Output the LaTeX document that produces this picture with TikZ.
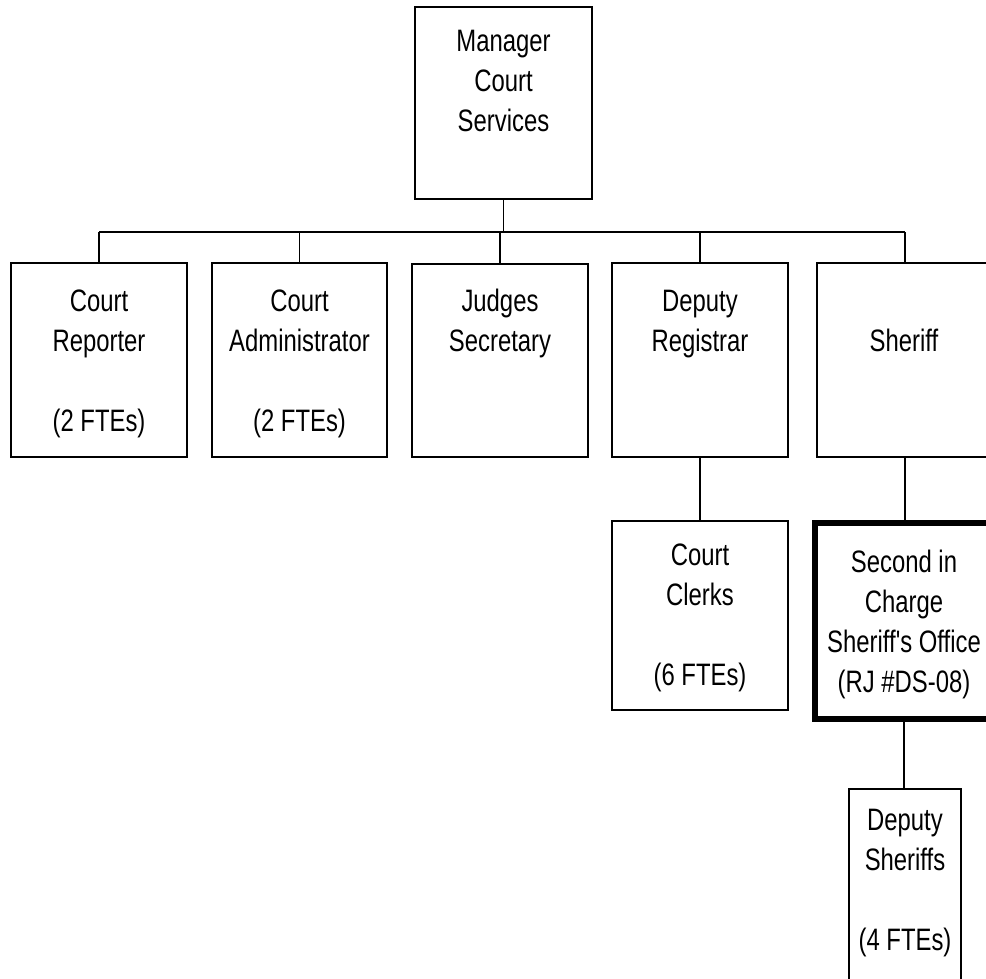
\documentclass[tikz,border=0pt]{standalone}
\usepackage{fontspec}
\setmainfont[FakeStretch=0.77, Ligatures=TeXOff]{Liberation Sans}
\tikzset{
  boxst/.style={draw=black, line width=2pt, inner sep=0pt, fill=white},
  bossbox/.style={draw=black, line width=6pt, inner sep=0pt, fill=white},
  txt/.style={inner sep=0pt, anchor=base, font=\fontsize{31}{40}\selectfont},
  conn/.style={draw=black, line width=1.8pt},
}
\newcommand{\lines}[1]{\parbox[t]{220pt}{\centering #1}}
\begin{document}
\begin{tikzpicture}[x=1pt,y=-1pt]
\useasboundingbox (0,0) rectangle (986,979);
\clip (0,0) rectangle (986,979);
% boxes
\node[boxst, minimum width=177pt, minimum height=192pt] (mgr) at (503.5,103) {};
\node[boxst, minimum width=176pt, minimum height=194pt] (cr) at (99,360) {};
\node[boxst, minimum width=175pt, minimum height=194pt] (ca) at (299.5,360) {};
\node[boxst, minimum width=176pt, minimum height=193pt] (js) at (500,360) {};
\node[boxst, minimum width=176pt, minimum height=194pt] (dr) at (700,360) {};
\node[boxst, minimum width=176pt, minimum height=194pt] (sh) at (905,360) {};
\node[boxst, minimum width=176pt, minimum height=189pt] (cc) at (700,615.5) {};
\node[bossbox, minimum width=178pt, minimum height=195.5pt] (sic) at (904,620.75) {};
\node[boxst, minimum width=112pt, minimum height=220pt] (ds) at (905,899) {};
% connectors
\coordinate (bus) at (0,232);
\draw[conn] (mgr.south) -- (mgr.south |- bus);
\draw[conn] (cr.north |- bus) -- (sh.north |- bus);
\draw[conn] (cr.north) -- (cr.north |- bus);
\draw[conn] (ca.north) -- (ca.north |- bus);
\draw[conn] (js.north) -- (js.north |- bus);
\draw[conn] (dr.north) -- (dr.north |- bus);
\draw[conn] (sh.north) -- (sh.north |- bus);
\draw[conn] (dr.south) -- (cc.north);
\draw[conn] (sh.south) -- (sic.north -| sh.south);
\draw[conn] (sic.south) -- (ds.north -| sic.south);
% texts
\node[txt] (mgr-t) at (503.5,52) {\lines{Manager\\Court\\Services}};
\node[txt] (cr-t) at (99,311) {\lines{Court\\Reporter\\[40pt](2 FTEs)}};
\node[txt] (ca-t) at (299.5,311) {\lines{Court\\Administrator\\[40pt](2 FTEs)}};
\node[txt] (js-t) at (500,311) {\lines{Judges\\Secretary}};
\node[txt] (dr-t) at (700,311) {\lines{Deputy\\Registrar}};
\node[txt] (sh-t) at (904,351) {\lines{Sheriff}};
\node[txt] (cc-t) at (700,565) {\lines{Court\\Clerks\\[40pt](6 FTEs)}};
\node[txt] (sic-t) at (904,572) {\lines{Second in\\Charge\\Sheriff's Office\\(RJ \#DS-08)}};
\node[txt] (ds-t) at (905,830) {\lines{Deputy\\Sheriffs\\[40pt](4 FTEs)}};
\end{tikzpicture}
\end{document}
